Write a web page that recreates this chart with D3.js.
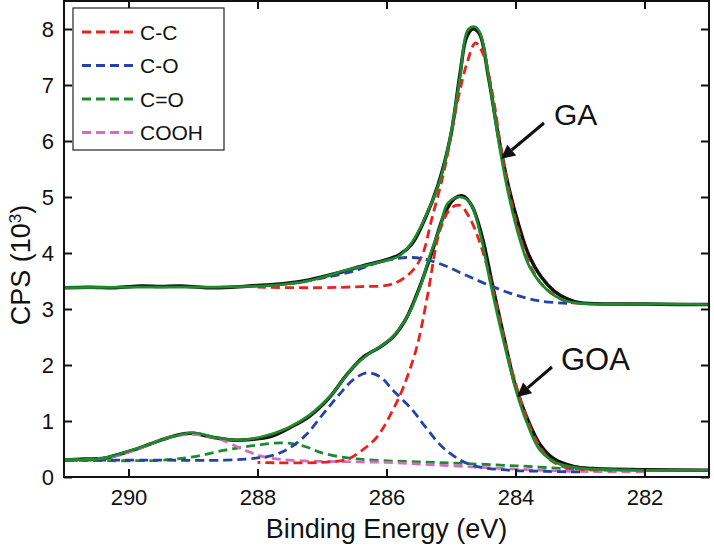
<!DOCTYPE html>
<html>
<head>
<meta charset="utf-8">
<script src="https://cdn.jsdelivr.net/npm/d3@7"></script>
<style>
  html, body { margin: 0; padding: 0; background: #fff; }
  svg { display: block; }
  text { font-family: "Liberation Sans", Arial, Helvetica, sans-serif; fill: #111; }
</style>
</head>
<body>
<svg id="chart" width="714" height="548"></svg>
<script>
// ---------------- data (binding energy eV, CPS x10^3) ----------------
const xTickValues = [290, 288, 286, 284, 282];
const yTickValues = [0, 1, 2, 3, 4, 5, 6, 7, 8];
const legendLabels = ["C-C", "C-O", "C=O", "COOH"];

// GA sample
const gaData = [[291.0,3.38],[290.6,3.39],[290.2,3.38],[289.8,3.41],[289.5,3.40],[289.2,3.41],[288.8,3.38],[288.4,3.39],[288.0,3.42],[287.6,3.45],[287.2,3.52],[286.8,3.63],[286.4,3.76],[286.0,3.88],[285.8,3.97],[285.6,4.17],[285.4,4.62],[285.2,5.22],[285.0,6.12],[284.86,7.2],[284.76,7.85],[284.66,8.0],[284.56,7.92],[284.42,7.15],[284.26,6.05],[284.1,5.15],[283.95,4.5],[283.8,3.98],[283.6,3.57],[283.4,3.32],[283.2,3.18],[283.0,3.11],[282.5,3.09],[282.0,3.09],[281.5,3.08],[281.0,3.08]];
const gaFit = [[291.0,3.38],[290.0,3.39],[289.0,3.39],[288.0,3.41],[287.3,3.48],[286.6,3.70],[286.1,3.84],[285.8,3.95],[285.6,4.2],[285.33,4.82],[285.17,5.3],[285.02,6.02],[284.86,7.14],[284.74,7.98],[284.63,8.04],[284.55,7.93],[284.40,7.03],[284.24,5.84],[284.09,4.95],[283.93,4.23],[283.78,3.75],[283.51,3.34],[283.26,3.16],[283.0,3.10],[282.0,3.09],[281.0,3.08]];
const gaCC = [[288.0,3.39],[287.0,3.38],[286.4,3.40],[286.0,3.42],[285.8,3.50],[285.6,3.68],[285.45,3.95],[285.3,4.6],[285.1,5.5],[284.9,6.7],[284.75,7.4],[284.62,7.75],[284.5,7.55],[284.35,6.8],[284.2,5.7],[284.0,4.6],[283.8,3.85],[283.6,3.45],[283.4,3.25],[283.2,3.13],[283.0,3.10]];
const gaCO = [[287.5,3.45],[287.0,3.55],[286.5,3.68],[286.1,3.84],[285.6,3.92],[285.2,3.82],[284.8,3.62],[284.4,3.42],[284.0,3.25],[283.6,3.14],[283.2,3.10]];

// GOA sample
const goaData = [[291.0,0.30],[290.7,0.32],[290.4,0.33],[290.1,0.42],[289.8,0.53],[289.5,0.66],[289.2,0.76],[289.0,0.78],[288.7,0.71],[288.4,0.66],[288.1,0.67],[287.8,0.72],[287.5,0.88],[287.2,1.08],[286.9,1.40],[286.6,1.85],[286.35,2.15],[286.1,2.32],[285.9,2.5],[285.7,2.82],[285.5,3.35],[285.3,4.0],[285.1,4.7],[284.95,4.97],[284.82,5.02],[284.68,4.85],[284.52,4.3],[284.37,3.5],[284.18,2.5],[284.0,1.62],[283.82,1.05],[283.62,0.58],[283.4,0.32],[283.1,0.19],[282.8,0.15],[282.0,0.13],[281.0,0.12]];
const goaFit = [[291.0,0.31],[290.5,0.32],[290.29,0.36],[289.78,0.54],[289.36,0.71],[289.0,0.79],[288.63,0.70],[288.32,0.66],[287.96,0.71],[287.54,0.87],[287.19,1.11],[286.83,1.50],[286.52,1.96],[286.26,2.21],[285.95,2.45],[285.68,2.86],[285.48,3.39],[285.33,3.95],[285.17,4.46],[285.05,4.89],[284.86,5.0],[284.7,4.89],[284.55,4.36],[284.40,3.52],[284.19,2.45],[283.98,1.5],[283.82,0.96],[283.62,0.48],[283.36,0.25],[283.0,0.16],[282.0,0.12],[281.0,0.12]];
const goaCC = [[288.0,0.26],[287.0,0.26],[286.6,0.32],[286.4,0.46],[286.15,0.71],[285.9,1.2],[285.74,1.6],[285.53,2.32],[285.37,3.2],[285.17,4.41],[285.0,4.8],[284.86,4.85],[284.7,4.6],[284.5,4.0],[284.3,3.1],[284.1,2.1],[283.9,1.3],[283.7,0.7],[283.5,0.35],[283.3,0.2],[283.0,0.14],[282.5,0.12]];
const goaCO = [[291.0,0.30],[289.5,0.30],[288.5,0.30],[288.0,0.34],[287.75,0.39],[287.5,0.52],[287.25,0.75],[287.0,1.1],[286.75,1.45],[286.5,1.75],[286.3,1.86],[286.1,1.79],[285.9,1.55],[285.6,1.2],[285.4,0.9],[285.1,0.5],[284.7,0.22],[284.2,0.13],[283.5,0.10],[283.0,0.09]];
const goaCdO = [[291.0,0.30],[289.5,0.30],[289.0,0.36],[288.5,0.48],[288.0,0.57],[287.6,0.61],[287.25,0.54],[287.0,0.43],[286.6,0.34],[286.2,0.30],[285.5,0.27],[285.0,0.25],[284.0,0.2],[283.0,0.14],[282.0,0.12]];
const goaCOOH = [[291.0,0.30],[290.3,0.35],[289.8,0.52],[289.4,0.70],[289.0,0.76],[288.6,0.68],[288.2,0.48],[287.9,0.36],[287.5,0.30],[286.0,0.26],[285.0,0.20],[284.0,0.14],[283.0,0.10],[282.0,0.09]];

// ---------------- drawing ----------------
const mLeft = 64, mRight = 709, mTop = 1, mBottom = 477;
const svg = d3.select("#chart");

const x = d3.scaleLinear().domain([291, 281]).range([mLeft, mRight]);
const y = d3.scaleLinear().domain([0, 8.5]).range([mBottom, mTop]);

const colors = { cc: "#e8231c", co: "#2443a6", cdo: "#1c8a30", cooh: "#d66cc0", fit: "#1f8a2b", data: "#111111" };
const dash = "9,5";

const lineR = d3.line().x(d => x(d[0])).y(d => y(d[1])).curve(d3.curveCatmullRom.alpha(0.5));

svg.append("clipPath").attr("id", "clip").append("rect")
  .attr("x", mLeft).attr("y", mTop).attr("width", mRight - mLeft).attr("height", mBottom - mTop);
const g = svg.append("g").attr("clip-path", "url(#clip)");

function draw(data, color, width, dashed) {
  const sorted = data.slice().sort((a, b) => a[0] - b[0]);
  g.append("path").datum(sorted)
    .attr("d", lineR)
    .attr("fill", "none")
    .attr("stroke", color)
    .attr("stroke-width", width)
    .attr("stroke-linejoin", "round")
    .attr("stroke-dasharray", dashed ? dash : null);
}

// data (black)
draw(gaData, colors.data, 3.5, false);
draw(goaData, colors.data, 3.5, false);
// components
draw(gaCC, colors.cc, 2.8, true);
draw(gaCO, colors.co, 2.8, true);
draw(goaCdO, colors.cdo, 2.8, true);
draw(goaCOOH, colors.cooh, 2.8, true);
draw(goaCO, colors.co, 2.8, true);
draw(goaCC, colors.cc, 2.8, true);
// fits
draw(gaFit, colors.fit, 2.7, false);
draw(goaFit, colors.fit, 2.7, false);

// axes
const tickLen = 8;
const axB = svg.append("g").attr("transform", `translate(0,${mBottom})`)
  .call(d3.axisBottom(x).tickValues(xTickValues).tickSize(-tickLen).tickSizeOuter(0).tickPadding(12).tickFormat(d3.format("d")));
const axT = svg.append("g").attr("transform", `translate(0,${mTop})`)
  .call(d3.axisTop(x).tickValues(xTickValues).tickSize(-tickLen).tickSizeOuter(0).tickFormat(""));
const axL = svg.append("g").attr("transform", `translate(${mLeft},0)`)
  .call(d3.axisLeft(y).tickValues(yTickValues).tickSize(-tickLen).tickSizeOuter(0).tickPadding(10).tickFormat(d3.format("d")));
const axR = svg.append("g").attr("transform", `translate(${mRight},0)`)
  .call(d3.axisRight(y).tickValues(yTickValues).tickSize(-tickLen).tickSizeOuter(0).tickFormat(""));
[axB, axT, axL, axR].forEach(a => {
  a.select(".domain").remove();
  a.selectAll(".tick line").attr("stroke", "#111").attr("stroke-width", 2);
  a.selectAll("text").attr("fill", "#111").style("font-size", "22px").attr("font-family", null);
});

svg.append("rect").attr("x", mLeft).attr("y", mTop).attr("width", mRight - mLeft).attr("height", mBottom - mTop)
  .attr("fill", "none").attr("stroke", "#111").attr("stroke-width", 2);

// axis titles
svg.append("text").attr("x", (mLeft + mRight) / 2).attr("y", 538)
  .attr("text-anchor", "middle").style("font-size", "27px").text("Binding Energy (eV)");
const yl = svg.append("text").attr("transform", `translate(30,${265}) rotate(-90)`)
  .attr("text-anchor", "middle").style("font-size", "27px");
yl.append("tspan").text("CPS (10");
yl.append("tspan").attr("dy", "-0.55em").style("font-size", "17px").text("3");
yl.append("tspan").attr("dy", "0.35em").text(")");

// legend
const lg = svg.append("g");
lg.append("rect").attr("x", 73).attr("y", 8).attr("width", 151).attr("height", 142)
  .attr("fill", "#fff").attr("stroke", "#222").attr("stroke-width", 1.2);
const lcol = [colors.cc, colors.co, colors.cdo, colors.cooh];
legendLabels.forEach((lab, i) => {
  const yy = 32 + i * 33.5;
  lg.append("line").attr("x1", 82).attr("x2", 136).attr("y1", yy).attr("y2", yy)
    .attr("stroke", lcol[i]).attr("stroke-width", 3).attr("stroke-dasharray", dash);
  lg.append("text").attr("x", 140).attr("y", yy).attr("dy", "0.36em")
    .style("font-size", "21px").text(lab);
});

// annotations
function arrow(x1, y1, x2, y2) {
  const ang = Math.atan2(y2 - y1, x2 - x1);
  const hl = 14, hw = 7;
  const bx = x2 - hl * Math.cos(ang), by = y2 - hl * Math.sin(ang);
  svg.append("line").attr("x1", x1).attr("y1", y1).attr("x2", bx).attr("y2", by)
    .attr("stroke", "#111").attr("stroke-width", 3);
  svg.append("path").attr("d",
    `M${x2},${y2} L${bx + hw * Math.sin(ang)},${by - hw * Math.cos(ang)} L${bx - hw * Math.sin(ang)},${by + hw * Math.cos(ang)} Z`)
    .attr("fill", "#111");
}
svg.append("text").attr("x", 554).attr("y", 125).style("font-size", "30px").text("GA");
arrow(544, 123, 501, 159);
svg.append("text").attr("x", 561).attr("y", 370).style("font-size", "31px").text("GOA");
arrow(552, 367, 517, 397);
</script>
</body>
</html>
